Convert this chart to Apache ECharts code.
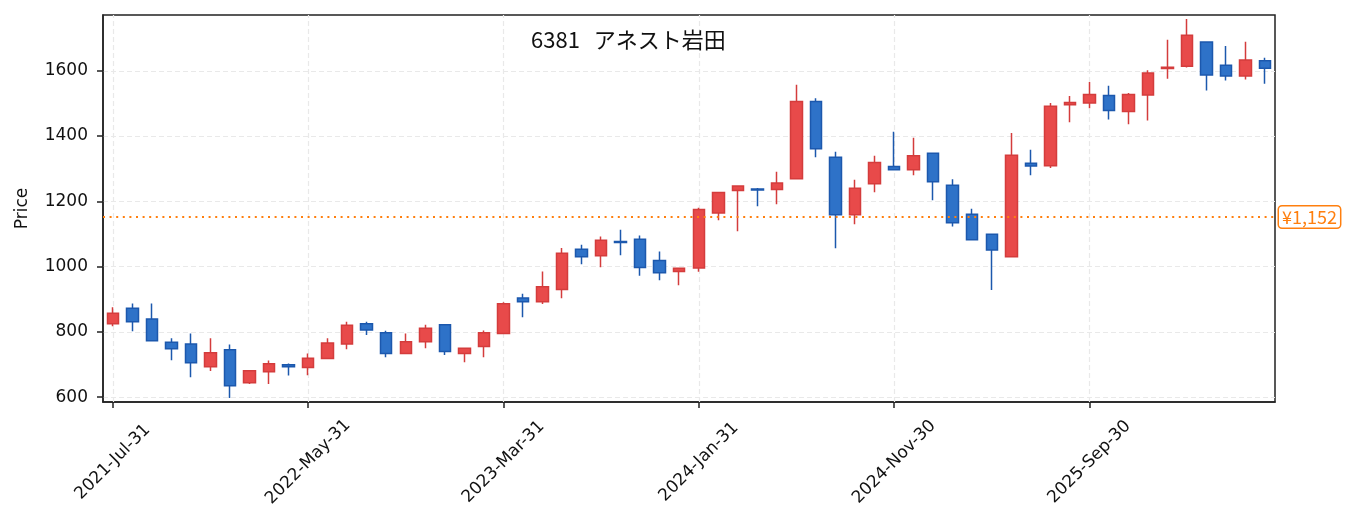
<!DOCTYPE html>
<html>
<head>
<meta charset="utf-8">
<script src="https://cdn.jsdelivr.net/npm/echarts@6/dist/echarts.min.js"></script>
<style>
html,body{margin:0;padding:0;background:#fff;}
#chart{width:1353px;height:531px;}
</style>
</head>
<body>
<div id="chart"></div>
<script>
// 月足 2021-07 .. 2026-06
var dates = [
	'2021-Jul-31','2021-Aug-31','2021-Sep-30','2021-Oct-31','2021-Nov-30','2021-Dec-31',
	'2022-Jan-31','2022-Feb-28','2022-Mar-31','2022-Apr-30','2022-May-31','2022-Jun-30',
	'2022-Jul-31','2022-Aug-31','2022-Sep-30','2022-Oct-31','2022-Nov-30','2022-Dec-31',
	'2023-Jan-31','2023-Feb-28','2023-Mar-31','2023-Apr-30','2023-May-31','2023-Jun-30',
	'2023-Jul-31','2023-Aug-31','2023-Sep-30','2023-Oct-31','2023-Nov-30','2023-Dec-31',
	'2024-Jan-31','2024-Feb-29','2024-Mar-31','2024-Apr-30','2024-May-31','2024-Jun-30',
	'2024-Jul-31','2024-Aug-31','2024-Sep-30','2024-Oct-31','2024-Nov-30','2024-Dec-31',
	'2025-Jan-31','2025-Feb-28','2025-Mar-31','2025-Apr-30','2025-May-31','2025-Jun-30',
	'2025-Jul-31','2025-Aug-31','2025-Sep-30','2025-Oct-31','2025-Nov-30','2025-Dec-31',
	'2026-Jan-31','2026-Feb-28','2026-Mar-31','2026-Apr-30','2026-May-31','2026-Jun-30'
];
var open = [
	825,872,839,768,763,693,745,644,678,699,
	691,718,763,825,797,734,770,822,734,755,
	795,904,892,930,1053,1033,1077,1084,1019,985,
	996,1164,1233,1238,1236,1269,1506,1335,1159,1254,
	1307,1297,1347,1249,1160,1099,1030,1317,1309,1496,
	1501,1524,1475,1526,1607,1614,1688,1617,1584,1631
];
var high = [
	875,887,887,780,795,780,761,681,712,703,
	734,780,831,831,803,795,822,823,750,804,
	891,917,985,1057,1067,1092,1113,1095,1046,995,
	1180,1228,1247,1241,1291,1557,1516,1352,1266,1340,
	1413,1395,1347,1268,1177,1099,1409,1358,1501,1523,
	1566,1554,1532,1602,1695,1759,1688,1676,1689,1640
];
var low = [
	817,802,772,713,661,680,597,640,640,666,
	667,718,747,790,722,734,750,729,707,722,
	795,845,885,903,1007,998,1035,972,958,943,
	984,1142,1108,1185,1191,1269,1335,1056,1130,1228,
	1297,1280,1203,1123,1082,928,1030,1280,1302,1442,
	1485,1451,1436,1448,1576,1610,1540,1570,1573,1560
];
var close = [
	857,831,773,748,705,736,635,681,702,693,
	719,766,820,806,734,770,811,740,750,797,
	886,892,938,1041,1030,1081,1074,997,981,995,
	1175,1227,1247,1235,1256,1506,1361,1159,1240,1319,
	1297,1340,1260,1134,1082,1051,1341,1308,1491,1503,
	1527,1478,1527,1593,1611,1709,1587,1584,1633,1608
];
var lastPrice = 1152;
var code = '6381';
var name = 'アネスト岩田';

var font = 'DejaVu Sans';
var cjk = 'Noto Sans CJK JP';
var kline = [];
for(var i = 0; i < dates.length; i++){
	kline.push([open[i], close[i], low[i], high[i]]);
}
// 縦グリッド（ラベル位置）
var vgrid = [];
for(var i = 0; i < dates.length; i += 10){
	vgrid.push({xAxis: dates[i]});
}
var gridLine = {color : '#e9e9e9', width : 1.2, type : [5, 3]};

var chart = echarts.init(document.getElementById('chart'));
chart.setOption({
	animation : false,
	title : {
		text : '{n|' + code + '}{s|  }{n|' + name + '}',
		left : 526,
		top : 24,
		textStyle : {
			fontWeight : 'normal',
			rich : {
				n : {fontFamily : cjk, fontSize : 22, fontWeight : 'normal', color : '#111'},
				s : {fontFamily : font, fontSize : 22, fontWeight : 'normal', color : '#111'}
			}
		}
	},
	grid : {
		left : 103,
		right : 78,
		top : 15,
		bottom : 129,
		show : true,
		borderColor : '#222',
		borderWidth : 1.5,
		outerBoundsMode : 'none'
	},
	xAxis : {
		type : 'category',
		data : dates,
		boundaryGap : true,
		axisLine : {
			show : true,
			lineStyle : {color : '#222', width : 1.5}
		},
		axisTick : {
			show : true,
			alignWithLabel : true,
			interval : 9,
			length : 6,
			lineStyle : {color : '#222', width : 1.5}
		},
		axisLabel : {
			interval : 9,
			rotate : 45,
			align : 'center',
			verticalAlign : 'middle',
			margin : 60,
			fontFamily : font,
			fontSize : 17,
			color : '#111'
		},
		splitLine : {show : false}
	},
	yAxis : {
		type : 'value',
		min : 585,
		max : 1771,
		splitNumber : 6,
		name : 'Price',
		nameLocation : 'middle',
		nameGap : 72,
		nameTextStyle : {
			fontFamily : font,
			fontSize : 17,
			color : '#111'
		},
		axisLine : {
			show : true,
			lineStyle : {color : '#222', width : 1.5}
		},
		axisTick : {
			show : true,
			length : 6,
			lineStyle : {color : '#222', width : 1.5}
		},
		axisLabel : {
			showMinLabel : false,
			showMaxLabel : false,
			margin : 15,
			formatter : function(v){ return String(v); },
			fontFamily : font,
			fontSize : 17,
			color : '#111'
		},
		splitLine : {
			show : true,
			showMinLine : false,
			showMaxLine : false,
			lineStyle : gridLine
		}
	},
	series : [
		{
			type : 'line',
			data : [],
			z : 1,
			silent : true,
			markLine : {
				z : 1,
				silent : true,
				symbol : 'none',
				label : {show : false},
				lineStyle : gridLine,
				data : vgrid
			}
		},
		{
			type : 'candlestick',
			data : kline,
			barWidth : 12,
			z : 3,
			itemStyle : {
				color : '#e84a4a',
				color0 : '#2e72c8',
				borderColor : '#d43c3c',
				borderColor0 : '#1c58ad',
				borderWidth : 1.5
			},
			markLine : {
				silent : true,
				symbol : 'none',
				lineStyle : {color : '#ff7f0e', width : 2, type : [2, 4.6]},
				label : {
					show : true,
					position : 'end',
					distance : 4,
					formatter : '¥1,152',
					fontFamily : cjk,
					fontSize : 18,
					lineHeight : 18,
					color : '#ff7f0e',
					backgroundColor : '#fff',
					borderColor : '#ff7f0e',
					borderWidth : 1.5,
					borderRadius : 3,
					padding : [2, 3, 1, 3]
				},
				data : [{yAxis : lastPrice}]
			}
		}
	]
});
</script>
</body>
</html>
